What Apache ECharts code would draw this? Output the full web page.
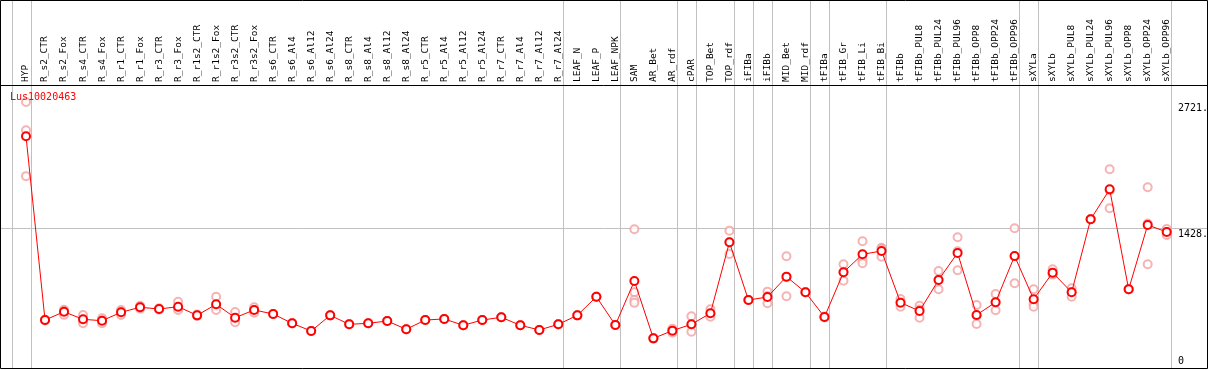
<!DOCTYPE html>
<html>
<head>
<meta charset="utf-8">
<script src="https://cdn.jsdelivr.net/npm/echarts@6/dist/echarts.min.js"></script>
<style>
html,body{margin:0;padding:0;background:#fff;}
#c{width:1209px;height:370px;}
</style>
</head>
<body>
<div id="c"></div>
<script>
const title = "Lus10020463";
const categories = ["HYP","R_s2_CTR","R_s2_Fox","R_s4_CTR","R_s4_Fox","R_r1_CTR","R_r1_Fox","R_r3_CTR","R_r3_Fox","R_r1s2_CTR","R_r1s2_Fox","R_r3s2_CTR","R_r3s2_Fox","R_s6_CTR","R_s6_Al4","R_s6_Al12","R_s6_Al24","R_s8_CTR","R_s8_Al4","R_s8_Al12","R_s8_Al24","R_r5_CTR","R_r5_Al4","R_r5_Al12","R_r5_Al24","R_r7_CTR","R_r7_Al4","R_r7_Al12","R_r7_Al24","LEAF_N","LEAF_P","LEAF_NPK","SAM","AR_Bet","AR_rdf","cPAR","TOP_Bet","TOP_rdf","iFIBa","iFIBb","MID_Bet","MID_rdf","tFIBa","tFIB_Gr","tFIB_Li","tFIB_Bi","tFIBb","tFIBb_PUL8","tFIBb_PUL24","tFIBb_PUL96","tFIBb_OPP8","tFIBb_OPP24","tFIBb_OPP96","sXYLa","sXYLb","sXYLb_PUL8","sXYLb_PUL24","sXYLb_PUL96","sXYLb_OPP8","sXYLb_OPP24","sXYLb_OPP96"];
const means = [2370,484,569,491,477,563,615,597,621,532,645,508,587,546,450,371,532,440,450,474,389,484,495,430,484,512,430,382,440,532,723,433,884,296,375,440,553,1281,689,720,929,768,515,974,1158,1192,662,577,895,1172,536,666,1141,697,970,768,1517,1825,799,1459,1387];
const replicates = [
 [2721,2430,1960],[490,480,482],[590,580,537],[536,487,450],[502,480,450],[587,566,536],[630,615,600],[605,597,590],[672,604,587],[540,530,526],
 [723,625,587],[566,497,461],[615,587,559],[546,546,546],[450,450,450],[371,371,371],[532,532,532],[440,440,440],[450,450,450],[474,474,474],
 [389,389,389],[484,484,484],[495,495,495],[430,430,430],[484,484,484],[512,512,512],[430,430,430],[382,382,382],[440,440,440],[532,532,532],
 [723,723,723],[433,433,433],[1415,768,690,660],[300,296,292],[395,375,354],[522,434,364],[594,547,518],[1401,1281,1161],[689,689,689],[775,730,656],
 [1138,922,727],[768,768,768],[520,515,510],[1056,978,888],[1292,1100,1066],[1226,1216,1134],[700,665,621],[631,592,508],[987,899,799],[1333,1189,994],
 [638,527,443],[751,663,584],[1425,1137,861],[799,648,621],[1004,956,950],[809,772,723],[1517,1517,1517],[2031,1814,1630],[799,799,799],[1846,1475,1056],
 [1418,1387,1356]
];
const groupEnds = [-1,0,28,31,34,35,37,38,39,41,42,45,52,53,60];
const yTickValues = [2721,1428,0];
const yTickLabels = ["2721.","1428.","0"];
const yGridValues = [1428];

const FONT = "'DejaVu Sans Mono', monospace";
const repData = [];
replicates.forEach((arr,i)=>arr.forEach(v=>repData.push([i,v])));

const chart = echarts.init(document.getElementById('c'), null, {renderer:'canvas'});
chart.setOption({
  animation:false,
  backgroundColor:'#fff',
  title:{text:title,left:10,top:92,padding:0,textStyle:{color:'#ff0000',fontSize:10,fontFamily:FONT,fontWeight:'normal'}},
  grid:{left:16.5,right:32.8,top:85,bottom:2.8,containLabel:false},
  xAxis:{type:'category',position:'top',data:categories,boundaryGap:true,
    axisLine:{show:false},axisTick:{show:false},splitLine:{show:false},
    axisLabel:{rotate:90,interval:0,margin:3,fontSize:9.5,fontFamily:FONT,color:'#000'}},
  yAxis:{type:'value',min:0,max:2895,axisLine:{show:false},axisTick:{show:false},axisLabel:{show:false},splitLine:{show:false}},
  series:[
    {type:'scatter',data:repData,symbol:'emptyCircle',symbolSize:8,z:2,
      itemStyle:{color:'#f2a0a0',borderWidth:1.1},silent:true},
    {type:'line',data:means,symbol:'emptyCircle',symbolSize:8,z:3,
      lineStyle:{color:'#ff0000',width:1},itemStyle:{color:'#ff0000',borderWidth:1.3}}
  ]
});

function draw(){
  const px = i => chart.convertToPixel({xAxisIndex:0}, i);
  const py = v => chart.convertToPixel({yAxisIndex:0}, v);
  const step = px(1)-px(0);
  const W = 1207.5, B = 368.5;
  const g = [];
  groupEnds.forEach(e=>{
    const x = Math.round(px(0) + (e + 0.24)*step) + 0.5;
    g.push({type:'line',shape:{x1:x,y1:0,x2:x,y2:B},style:{stroke:'#c0c0c0',lineWidth:1},z:-1,silent:true});
  });
  yGridValues.forEach(v=>{
    const y = Math.round(py(v)) + 0.5;
    g.push({type:'line',shape:{x1:0,y1:y,x2:W,y2:y},style:{stroke:'#c0c0c0',lineWidth:1},z:-1,silent:true});
  });
  yTickValues.forEach((v,k)=>{
    const y = py(v);
    const bottom = v === 0;
    g.push({type:'text',x:1178,y: bottom ? y-1 : y+1,style:{text:yTickLabels[k],font:'10px '+FONT,fill:'#000',
      textAlign:'left',textVerticalAlign: bottom ? 'bottom':'top'},z:5,silent:true});
  });
  g.push({type:'rect',shape:{x:0.5,y:0.5,width:W-0.5,height:B-0.5},style:{fill:null,stroke:'#000',lineWidth:1},z:10,silent:true});
  g.push({type:'line',shape:{x1:0,y1:85.5,x2:W,y2:85.5},style:{stroke:'#000',lineWidth:1},z:10,silent:true});
  chart.setOption({graphic:g});
}
draw();
</script>
</body>
</html>
